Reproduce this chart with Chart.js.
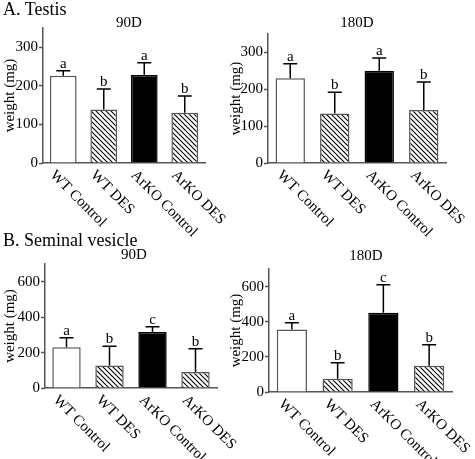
<!DOCTYPE html>
<html>
<head>
<meta charset="utf-8">
<script src="https://cdn.jsdelivr.net/npm/chart.js@4"></script>
<style>
  body { margin: 0; background: #fff; }
  #wrap { position: relative; width: 475px; height: 459px; overflow: hidden; }
  canvas { position: absolute; }
  .head { position: absolute; left: 3px; font: 18px "Liberation Serif", "Times New Roman", serif; line-height: 1; color: #000; z-index: 2; }
</style>
</head>
<body>
<div id="wrap">
  <div class="head" style="top:0px">A. Testis</div>
  <div class="head" style="top:231px">B. Seminal vesicle</div>
  <canvas id="c1" width="237" height="240" style="left:0;top:0"></canvas>
  <canvas id="c2" width="248" height="240" style="left:227px;top:0"></canvas>
  <canvas id="c3" width="238" height="230" style="left:0;top:229px"></canvas>
  <canvas id="c4" width="248" height="230" style="left:227px;top:229px"></canvas>
</div>
<script>
// categories
const categories = ['WT Control', 'WT DES', 'ArKO Control', 'ArKO DES'];

// testis weight (mg), mean and error
const testis90Mean = [226, 139, 228, 130];
const testis90Err = [13, 53, 32, 44];
const testis90Letters = ['a', 'b', 'a', 'b'];

const testis180Mean = [230, 134, 250, 144];
const testis180Err = [39, 58, 35, 76];
const testis180Letters = ['a', 'b', 'a', 'b'];

// seminal vesicle weight (mg)
const sv90Mean = [230, 127, 316, 90];
const sv90Err = [53, 109, 30, 131];
const sv90Letters = ['a', 'b', 'c', 'b'];

const sv180Mean = [356, 76, 451, 149];
const sv180Err = [38, 90, 160, 120];
const sv180Letters = ['a', 'b', 'c', 'b'];

const serif = '"Liberation Serif", "Times New Roman", serif';

// diagonal hatch
function hatch() {
  const c = document.createElement('canvas');
  c.width = 5; c.height = 5;
  const g = c.getContext('2d');
  g.fillStyle = '#fff';
  g.fillRect(0, 0, 5, 5);
  g.strokeStyle = '#000';
  g.lineWidth = 1.1;
  g.beginPath();
  g.moveTo(-1, -1); g.lineTo(6, 6);
  g.moveTo(-1, 4); g.lineTo(1, 6);
  g.moveTo(4, -1); g.lineTo(6, 1);
  g.stroke();
  return g.createPattern(c, 'repeat');
}

// error bars, letters, rotated labels, panel title
const extras = {
  id: 'extras',
  afterDatasetsDraw(chart, args, o) {
    const ctx = chart.ctx;
    const y = chart.scales.y;
    const x = chart.scales.x;
    const meta = chart.getDatasetMeta(0);
    ctx.save();
    ctx.strokeStyle = '#000';
    ctx.lineWidth = 1.5;
    ctx.fillStyle = '#000';
    ctx.font = '15px ' + serif;
    ctx.textAlign = 'center';
    ctx.textBaseline = 'alphabetic';
    meta.data.forEach((bar, i) => {
      const top = y.getPixelForValue(o.means[i] + o.errs[i]);
      ctx.beginPath();
      ctx.moveTo(bar.x, bar.y);
      ctx.lineTo(bar.x, top);
      ctx.moveTo(bar.x - 7, top);
      ctx.lineTo(bar.x + 7, top);
      ctx.stroke();
      ctx.fillText(o.letters[i], bar.x, top - 3);
    });
    // category labels
    ctx.textAlign = 'left';
    ctx.textBaseline = 'middle';
    categories.forEach((c, i) => {
      const px = x.getPixelForValue(i);
      ctx.save();
      ctx.translate(px - 11, chart.chartArea.bottom + 10);
      ctx.rotate(Math.PI / 4);
      ctx.fillText(c, 0, 0);
      ctx.restore();
    });
    // title
    ctx.textAlign = 'center';
    ctx.fillText(o.title, o.tx, o.ty);
    ctx.restore();
  }
};

function panel(id, means, errs, letters, yMax, step, labelEvery, title, tx, ty, pad, titlePad) {
  const pat = hatch();
  return new Chart(document.getElementById(id), {
    type: 'bar',
    data: {
      labels: categories,
      datasets: [{
        data: means,
        backgroundColor: ['#ffffff', pat, '#000000', pat],
        borderColor: ['#555', '#555', '#000', '#555'],
        borderWidth: 1.5,
        barPercentage: 0.66,
        categoryPercentage: 1
      }]
    },
    options: {
      responsive: false,
      animation: false,
      events: [],
      layout: { padding: { left: 0, top: pad.top, right: pad.right, bottom: pad.bottom } },
      plugins: {
        legend: { display: false },
        tooltip: { enabled: false },
        extras: { means, errs, letters, title, tx, ty }
      },
      scales: {
        x: {
          grid: { display: false },
          border: { color: '#555', width: 1.5 },
          ticks: { display: false },
          afterFit: s => { s.height = 0; }
        },
        y: {
          min: 0,
          max: yMax,
          grid: { drawOnChartArea: false, tickLength: 4, color: '#555', tickWidth: 1.5 },
          border: { color: '#555', width: 1.5 },
          ticks: {
            stepSize: step,
            padding: 1,
            color: '#000',
            font: { size: 15, family: serif },
            callback: v => (v % labelEvery === 0 ? v : '')
          },
          title: {
            display: true,
            text: 'weight (mg)',
            color: '#000',
            font: { size: 15, family: serif },
            padding: { top: titlePad, bottom: 0 }
          },
          afterFit: s => { s.width = pad.left; }
        }
      }
    },
    plugins: [extras]
  });
}

panel('c1', testis90Mean, testis90Err, testis90Letters, 350, 50, 100, '90D', 129, 23,
  { left: 43, top: 28, right: 32, bottom: 77 }, 1);
panel('c2', testis180Mean, testis180Err, testis180Letters, 350, 50, 100, '180D', 130, 23,
  { left: 41, top: 34, right: 29, bottom: 77 }, 0);
panel('c3', sv90Mean, sv90Err, sv90Letters, 700, 100, 200, '90D', 134, 26,
  { left: 45, top: 35, right: 21, bottom: 71 }, 1);
panel('c4', sv180Mean, sv180Err, sv180Letters, 700, 100, 200, '180D', 139, 27,
  { left: 42, top: 40, right: 23, bottom: 67 }, 0);
</script>
</body>
</html>
